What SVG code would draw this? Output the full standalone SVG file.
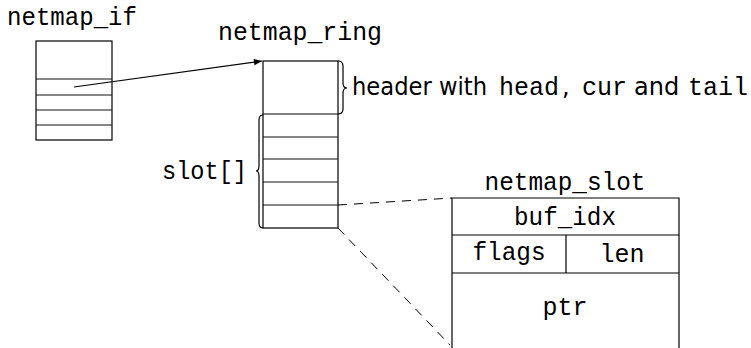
<svg xmlns="http://www.w3.org/2000/svg" width="751" height="348" viewBox="0 0 751 348">
<defs>
<style>
.mono{font-family:"Liberation Mono","DejaVu Sans Mono",monospace;font-size:25px;fill:#000}
.sans{font-family:"DejaVu Sans","Liberation Sans",sans-serif;font-size:24px;fill:#000}
.box{fill:none;stroke:#000;stroke-width:1.2}
.div{fill:none;stroke:#111;stroke-width:1.1}
.brace{fill:none;stroke:#000;stroke-width:1.2}
.dash{fill:none;stroke:#000;stroke-width:1;stroke-dasharray:9 7}
</style>
<marker id="arr" viewBox="0 0 10 10" refX="10" refY="5" markerWidth="12" markerHeight="8" markerUnits="userSpaceOnUse" orient="auto">
<path d="M0,1 L10,5 L0,9 Z" fill="#000"/>
</marker>
</defs>
<g id="netmap_if">
<text class="mono" x="7" y="25" textLength="130" lengthAdjust="spacingAndGlyphs">netmap_if</text>
<rect class="box" x="36" y="41" width="76" height="99"/>
<line class="div" x1="36" y1="79" x2="112" y2="79"/>
<line class="div" x1="36" y1="95" x2="112" y2="95"/>
<line class="div" x1="36" y1="110" x2="112" y2="110"/>
<line class="div" x1="36" y1="125" x2="112" y2="125"/>
</g>
<g id="netmap_ring">
<text class="mono" x="218" y="40" textLength="164" lengthAdjust="spacingAndGlyphs">netmap_ring</text>
<rect class="box" x="263" y="61" width="75" height="167"/>
<line class="box" x1="263" y1="114" x2="338" y2="114"/>
<line class="div" x1="263" y1="137" x2="338" y2="137"/>
<line class="div" x1="263" y1="159" x2="338" y2="159"/>
<line class="div" x1="263" y1="182" x2="338" y2="182"/>
<line class="div" x1="263" y1="205" x2="338" y2="205"/>
<path class="brace" d="M338,61 q5,0 5,5 v17 q0,5 4,5 q-4,0 -4,5 v16 q0,5 -5,5"/>
<path class="brace" d="M263,115 q-4,0 -4,5 v46 q0,5 -3,5 q3,0 3,5 v47 q0,5 4,5"/>
</g>
<g id="header_label">
<text class="sans" y="95"><tspan x="352" textLength="135" lengthAdjust="spacingAndGlyphs">header with</tspan><tspan class="mono" x="499">head</tspan><tspan x="562">,</tspan><tspan class="mono" x="582">cur</tspan><tspan x="634">and</tspan><tspan class="mono" x="688">tail</tspan></text>
</g>
<g id="slot_label">
<text class="mono" x="162" y="179" textLength="85" lengthAdjust="spacingAndGlyphs">slot[]</text>
</g>
<g id="netmap_slot">
<text class="mono" x="565" y="190" text-anchor="middle" textLength="161" lengthAdjust="spacingAndGlyphs">netmap_slot</text>
<path class="box" d="M452,348 V198 H679 V348"/>
<line class="box" x1="452" y1="235" x2="679" y2="235"/>
<line class="box" x1="452" y1="273" x2="679" y2="273"/>
<line class="box" x1="566" y1="235" x2="566" y2="273"/>
<text class="mono" x="565" y="225" text-anchor="middle" textLength="102" lengthAdjust="spacingAndGlyphs">buf_idx</text>
<text class="mono" x="509" y="260" text-anchor="middle" textLength="73" lengthAdjust="spacingAndGlyphs">flags</text>
<text class="mono" x="622" y="262" text-anchor="middle">len</text>
<text class="mono" x="565" y="315" text-anchor="middle">ptr</text>
</g>
<g id="connectors">
<line x1="74" y1="87" x2="262" y2="61" stroke="#000" stroke-width="1.2" marker-end="url(#arr)"/>
<line class="dash" x1="338" y1="205" x2="452" y2="198"/>
<line class="dash" x1="338" y1="228" x2="450" y2="345"/>
</g>
</svg>
